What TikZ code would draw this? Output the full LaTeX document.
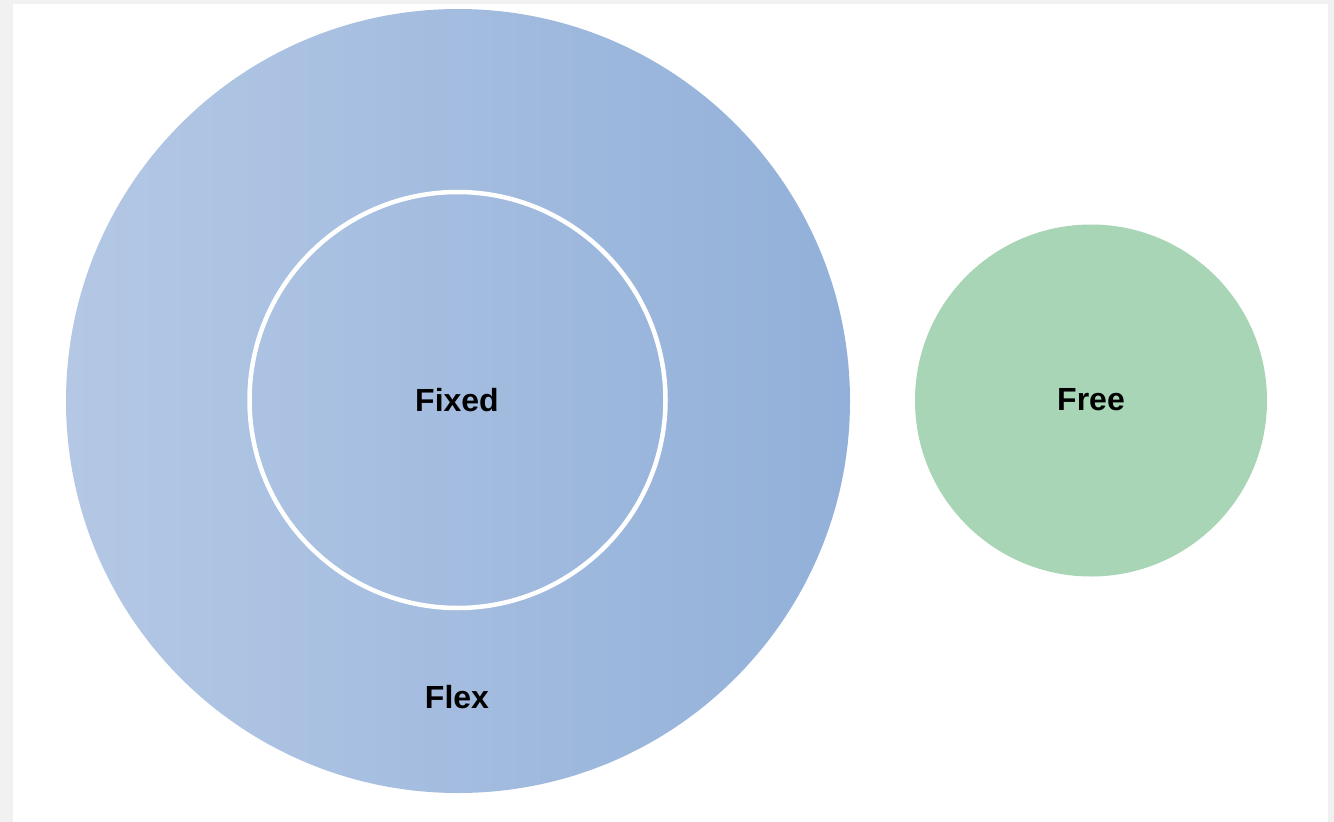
\documentclass[tikz,border=0pt]{standalone}
\usepackage{fontspec}
\setmainfont{Liberation Sans}
\definecolor{pagegray}{HTML}{F1F1F1}
\definecolor{blueL}{HTML}{B4C8E5}
\definecolor{blueR}{HTML}{92B0D9}
\definecolor{freegreen}{HTML}{A8D5B5}
\begin{document}
\begin{tikzpicture}[x=1pt,y=-1pt,
  lbl/.style={font=\fontsize{32}{32}\selectfont\bfseries, text=black, inner sep=0pt}]
\useasboundingbox (0,0) rectangle (1334,822);
\fill[pagegray] (0,0) rectangle (1334,822);
\fill[white] (13,4) rectangle (1328,822);
% outer Flex circle
\shade[left color=blueL, right color=blueR] (458,401) circle (392);
% inner Fixed circle
\draw[white, line width=4.5pt] (457.5,400) circle (208);
\node[lbl] (fixed) at (457,400) {Fixed};
\node[lbl] (flex) at (457,697) {Flex};
% Free circle
\fill[freegreen] (1091,400.5) circle (176);
\node[lbl] (free) at (1091,400) {Free};
\end{tikzpicture}
\end{document}
